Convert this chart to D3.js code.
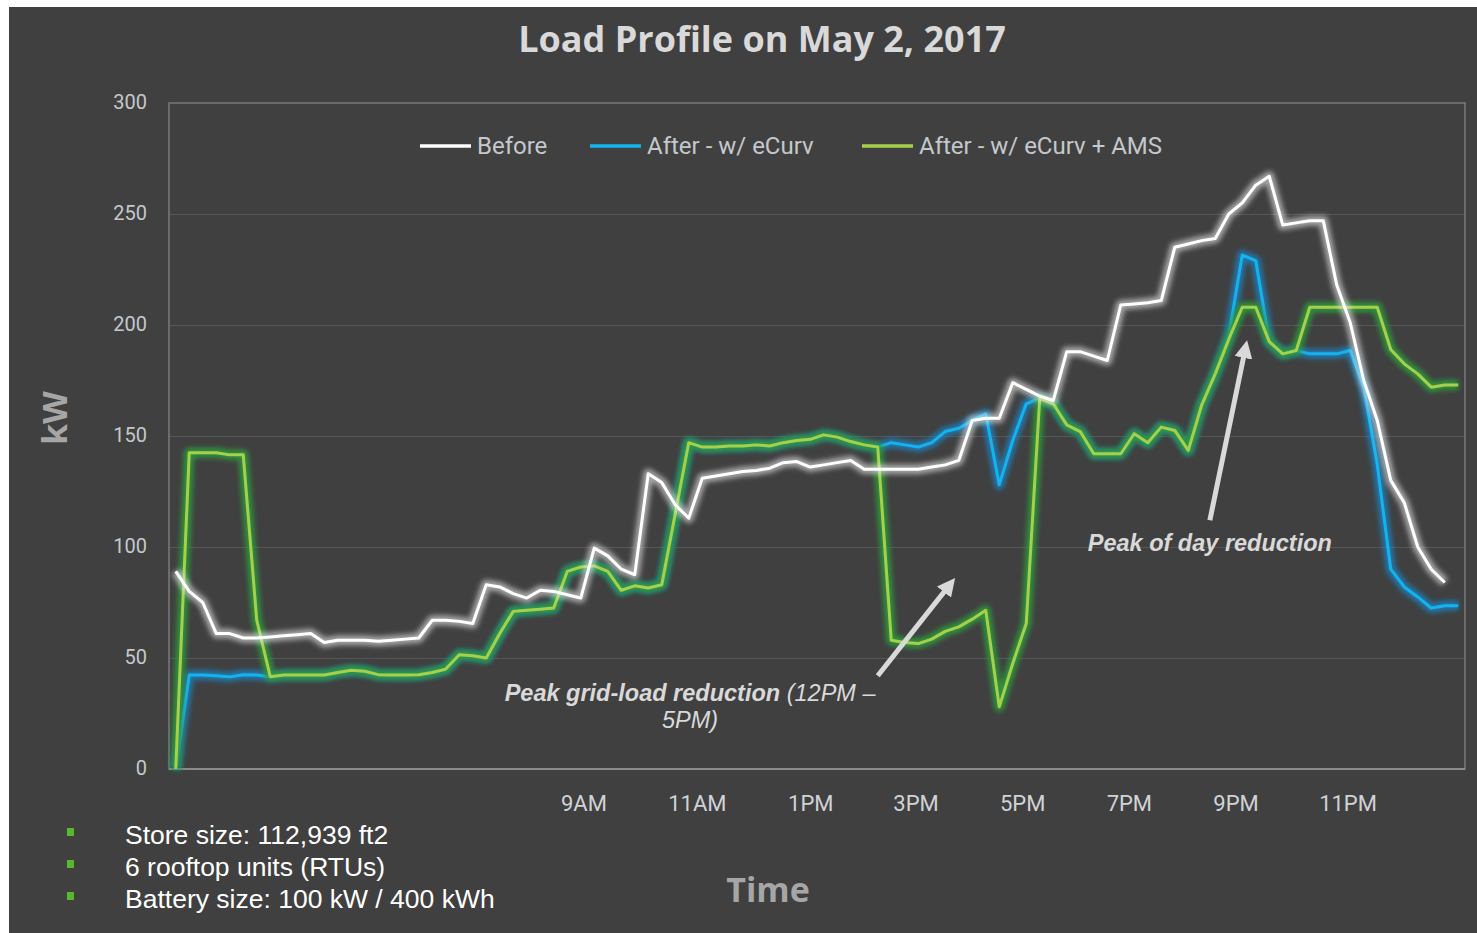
<!DOCTYPE html>
<html>
<head>
<meta charset="utf-8">
<script src="https://cdn.jsdelivr.net/npm/d3@7"></script>
<style>
  html, body { margin: 0; padding: 0; background: #ffffff; }
  svg { display: block; }
</style>
</head>
<body>
<div id="chart"></div>
<script>
// 15-minute intervals, index 0..95
const before = [
  89, 80, 75, 61, 61, 59, 59, 59.5, 60, 60.5, 61, 57, 58, 58, 58, 57.5, 58, 58.5, 59, 67,
  67, 66.5, 65.5, 83, 82, 79, 77, 80.5, 80, 78.5, 77, 99.5, 96, 90, 87.5, 133, 129, 119, 113, 131,
  132, 133, 134, 134.5, 135.5, 138, 138.5, 136, 137, 138, 139, 135, 135, 135, 135, 135, 136, 137, 139, 157,
  158, 158, 174, 171, 168, 166, 188, 188, 186, 184, 209, 209.5, 210, 211, 235, 236.5, 238, 239, 250, 255,
  263, 267, 245, 246, 247, 247, 218, 201, 175, 157, 130, 120, 100, 90, 84, null
];
const ecurv = [
  0, 42.3, 42.3, 42, 41.5, 42.5, 42.3, 41.6, 42.3, 42.3, 42.3, 42.3, 43.5, 44.5, 44, 42.5, 42.3, 42.3, 42.5, 43.5,
  45, 51.5, 51, 50, 61, 71, 71.5, 72, 72.5, 89, 91, 91.5, 89, 80.5, 82.5, 81.5, 83, 115, 147, 145,
  145, 145.5, 145.5, 146, 145.5, 147, 148, 148.5, 150.5, 149.5, 147.5, 146, 145, 147, 146, 145, 147, 152, 153.5, 157,
  160, 128, 148, 164.5, 167, 164.5, 155, 152, 142, 142, 142, 151, 147, 154, 152.5, 143.5, 164, 178, 195, 231.5,
  229, 192.5, 187, 188.5, 187, 187, 187, 188.5, 172, 137, 90, 82, 77.5, 72.5, 73.5, 73.5
];
const ecurvAms = [
  0, 142.5, 142.5, 142.5, 141.5, 141.5, 67, 41.6, 42.3, 42.3, 42.3, 42.3, 43.5, 44.5, 44, 42.5, 42.3, 42.3, 42.5, 43.5,
  45, 51.5, 51, 50, 61, 71, 71.5, 72, 72.5, 89, 91, 91.5, 89, 80.5, 82.5, 81.5, 83, 115, 147, 145,
  145, 145.5, 145.5, 146, 145.5, 147, 148, 148.5, 150.5, 149.5, 147.5, 146, 145, 58, 57, 56.5, 58.5, 62, 64, 67.5,
  71.5, 28, 47.5, 65.5, 167, 164.5, 155, 152, 142, 142, 142, 151, 147, 154, 152.5, 143.5, 164, 178, 193.5, 208,
  208, 192.5, 187, 188.5, 208, 208, 208, 208, 208, 208, 189, 182.5, 178, 172, 173, 173
];

const seriesNames = ["Before", "After - w/ eCurv", "After - w/ eCurv + AMS"];
const yTicks = [0, 50, 100, 150, 200, 250, 300];
const xTickLabels = ["9AM", "11AM", "1PM", "3PM", "5PM", "7PM", "9PM", "11PM"];
const xTickPos = [30.2, 38.6, 47, 54.8, 62.7, 70.6, 78.5, 86.8];
const notes = [
  "Store size: 112,939 ft2",
  "6 rooftop units (RTUs)",
  "Battery size: 100 kW / 400 kWh"
];

const W = 1477, H = 933;
const margin = { top: 103, right: 12, bottom: 164, left: 169 };
const width = W - margin.left - margin.right;
const height = H - margin.top - margin.bottom;

const svg = d3.select("#chart").append("svg")
  .attr("width", W)
  .attr("height", H);

// dark slide panel, white strip at top/left
svg.append("rect")
  .attr("x", 9).attr("y", 7)
  .attr("width", W - 9).attr("height", H - 7)
  .attr("fill", "#404040");

const defs = svg.append("defs");
defs.append("filter")
  .attr("id", "glow")
  .attr("x", "-10%").attr("y", "-10%")
  .attr("width", "120%").attr("height", "120%")
  .append("feGaussianBlur")
  .attr("stdDeviation", 2.8);

defs.append("marker")
  .attr("id", "arrowHead")
  .attr("viewBox", "0 0 10 10")
  .attr("refX", 6).attr("refY", 5)
  .attr("markerWidth", 3.6).attr("markerHeight", 3.6)
  .attr("orient", "auto")
  .append("path")
  .attr("d", "M0,0 L10,5 L0,10 Z")
  .attr("fill", "#d9d9d9");

const x = d3.scaleLinear().domain([-0.5, 95.5]).range([0, width]);
const y = d3.scaleLinear().domain([0, 300]).range([height, 0]);

const g = svg.append("g")
  .attr("transform", `translate(${margin.left},${margin.top})`);

// gridlines
g.append("g")
  .call(d3.axisLeft(y).tickValues(yTicks.slice(1, -1)).tickSize(-width).tickFormat(""))
  .call(s => s.select(".domain").remove())
  .selectAll("line")
  .attr("stroke", "#565656")
  .attr("stroke-width", 1);

// plot frame
g.append("rect")
  .attr("width", width).attr("height", height)
  .attr("fill", "none")
  .attr("stroke", "#7a7a7a")
  .attr("stroke-width", 1.5);
g.append("line")
  .attr("x1", 0).attr("x2", width)
  .attr("y1", y(0)).attr("y2", y(0))
  .attr("stroke", "#8c8c8c")
  .attr("stroke-width", 2);

// y axis labels
g.append("g")
  .call(d3.axisLeft(y).tickValues(yTicks).tickSize(0).tickPadding(22))
  .call(s => s.select(".domain").remove())
  .selectAll("text")
  .attr("dy", "0.25em")
  .attr("font-family", "Roboto, sans-serif")
  .attr("font-size", 20)
  .attr("fill", "#c4c8cc");

// x axis labels
g.append("g")
  .attr("transform", `translate(0,${height})`)
  .call(d3.axisBottom(x).tickValues(xTickPos).tickSize(0).tickPadding(26)
    .tickFormat((d, i) => xTickLabels[i]))
  .call(s => s.select(".domain").remove())
  .selectAll("text")
  .attr("font-family", "Roboto, sans-serif")
  .attr("font-size", 22)
  .attr("fill", "#d0d3d6");

// lines
const line = d3.line()
  .defined(d => d != null)
  .x((d, i) => x(i))
  .y(d => y(d));

const series = [
  { values: ecurv, color: "#12b4f0", glow: "#1a86c8", glowOpacity: 0.75 },
  { values: ecurvAms, color: "#a6d04c", glow: "#2f9a3c", glowOpacity: 0.9 },
  { values: before, color: "#ffffff", glow: "#e6e6e6", glowOpacity: 0.6 }
];

series.forEach(s => {
  g.append("path")
    .datum(s.values)
    .attr("d", line)
    .attr("fill", "none")
    .attr("stroke", s.glow)
    .attr("stroke-width", 10)
    .attr("stroke-opacity", s.glowOpacity)
    .attr("stroke-linejoin", "round")
    .attr("filter", "url(#glow)");
  g.append("path")
    .datum(s.values)
    .attr("d", line)
    .attr("fill", "none")
    .attr("stroke", s.color)
    .attr("stroke-width", 3)
    .attr("stroke-linejoin", "round");
});

// legend
const legendItems = [
  { name: seriesNames[0], color: "#ffffff", x: 420 },
  { name: seriesNames[1], color: "#12b4f0", x: 590 },
  { name: seriesNames[2], color: "#a6d04c", x: 862 }
];
const legend = svg.append("g").attr("transform", "translate(0,146)");
legendItems.forEach(d => {
  legend.append("line")
    .attr("x1", d.x).attr("x2", d.x + 51)
    .attr("y1", 0).attr("y2", 0)
    .attr("stroke", d.color)
    .attr("stroke-width", 3.5);
  legend.append("text")
    .attr("x", d.x + 57).attr("y", 0)
    .attr("dy", "0.35em")
    .attr("font-family", "Roboto, sans-serif")
    .attr("font-size", 24)
    .attr("fill", "#c4c8cc")
    .text(d.name);
});

// title
svg.append("text")
  .attr("x", 762).attr("y", 52)
  .attr("text-anchor", "middle")
  .attr("font-family", "'Open Sans', sans-serif")
  .attr("font-weight", 700)
  .attr("font-size", 36)
  .attr("fill", "#d9d9d9")
  .text("Load Profile on May 2, 2017");

// axis titles
svg.append("text")
  .attr("transform", "translate(67,418) rotate(-90)")
  .attr("text-anchor", "middle")
  .attr("font-family", "'Open Sans', sans-serif")
  .attr("font-weight", 700)
  .attr("font-size", 34)
  .attr("fill", "#a6a6a6")
  .text("kW");

svg.append("text")
  .attr("x", 768).attr("y", 902)
  .attr("text-anchor", "middle")
  .attr("font-family", "'Open Sans', sans-serif")
  .attr("font-weight", 700)
  .attr("font-size", 34)
  .attr("fill", "#a6a6a6")
  .text("Time");

// annotations
const annot = g.append("g")
  .attr("font-family", "'Liberation Sans', Arial, sans-serif")
  .attr("font-style", "italic")
  .attr("font-size", 23.5)
  .attr("fill", "#d9d9d9");

const t1 = annot.append("text")
  .attr("x", x(38.1)).attr("y", y(30.5))
  .attr("text-anchor", "middle");
t1.append("tspan").attr("font-weight", 700).text("Peak grid-load reduction");
t1.append("tspan").text(" (12PM \u2013");
annot.append("text")
  .attr("x", x(38.1)).attr("y", y(18.5))
  .attr("text-anchor", "middle")
  .text("5PM)");

annot.append("text")
  .attr("x", x(76.6)).attr("y", y(98))
  .attr("text-anchor", "middle")
  .attr("font-weight", 700)
  .text("Peak of day reduction");

const arrows = [
  { from: [52.0, 42], to: [57.4, 83.5] },
  { from: [76.6, 112], to: [79.25, 190] }
];
g.selectAll(".arrow")
  .data(arrows)
  .join("line")
  .attr("class", "arrow")
  .attr("x1", d => x(d.from[0])).attr("y1", d => y(d.from[1]))
  .attr("x2", d => x(d.to[0])).attr("y2", d => y(d.to[1]))
  .attr("stroke", "#d9d9d9")
  .attr("stroke-width", 5)
  .attr("marker-end", "url(#arrowHead)");

// bullet notes
const noteG = svg.append("g");
notes.forEach((t, i) => {
  noteG.append("rect")
    .attr("x", 67).attr("y", 828 + i * 32)
    .attr("width", 7).attr("height", 8)
    .attr("fill", "#5cb82a");
  noteG.append("text")
    .attr("x", 125).attr("y", 844 + i * 32)
    .attr("font-family", "'Liberation Sans', Arial, sans-serif")
    .attr("font-size", 26.5)
    .attr("fill", "#ffffff")
    .text(t);
});
</script>
</body>
</html>
